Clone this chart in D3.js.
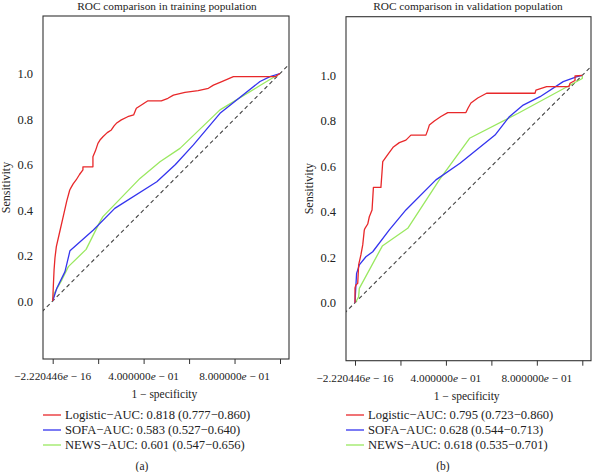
<!DOCTYPE html>
<html><head><meta charset="utf-8">
<script src="https://cdn.jsdelivr.net/npm/d3@7"></script>
<style>
body{margin:0;background:#fff;}
text{font-family:"Liberation Serif","DejaVu Serif",serif;fill:#222;}
</style></head>
<body><svg id="c" width="592" height="472"></svg>
<script>
// ---- data ----
const titles = ["ROC comparison in training population", "ROC comparison in validation population"];
const panelTags = ["(a)", "(b)"];
const seriesNames = ["Logistic", "SOFA", "NEWS"];
const seriesColors = ["#e8282a", "#3434ee", "#9ae860"];
const aucTrain = ["0.818 (0.777\u22120.860)", "0.583 (0.527\u22120.640)", "0.601 (0.547\u22120.656)"];
const aucValid = ["0.795 (0.723\u22120.860)", "0.628 (0.544\u22120.713)", "0.618 (0.535\u22120.701)"];
const yTicks = [0, 0.2, 0.4, 0.6, 0.8, 1.0];
const yTickLabels = ["0.0", "0.2", "0.4", "0.6", "0.8", "1.0"];
const xTicks = [0, 0.2, 0.4, 0.6, 0.8, 1.0];
const xTickLabels = ["\u22122.220446|e| \u2212 16", "", "4.000000|e| \u2212 01", "", "8.000000|e| \u2212 01", ""];
const xTitle = "1 \u2212 specificity";
const yTitle = "Sensitivity";

const trainLogistic = [[0,0],[0.003,0.07],[0.006,0.136],[0.01,0.19],[0.016,0.239],[0.03,0.30],[0.05,0.387],[0.062,0.44],[0.075,0.488],[0.08,0.497],[0.09,0.515],[0.103,0.532],[0.118,0.556],[0.133,0.576],[0.133,0.590],[0.177,0.590],[0.177,0.634],[0.188,0.66],[0.199,0.693],[0.21,0.71],[0.221,0.722],[0.24,0.74],[0.258,0.752],[0.27,0.77],[0.28,0.781],[0.302,0.796],[0.33,0.81],[0.356,0.818],[0.368,0.847],[0.38,0.855],[0.397,0.866],[0.419,0.880],[0.478,0.880],[0.507,0.891],[0.531,0.905],[0.582,0.917],[0.64,0.925],[0.685,0.935],[0.707,0.949],[0.744,0.964],[0.795,0.986],[0.978,0.986],[1,1]];
const trainSofa = [[0,0],[0.018,0.056],[0.054,0.129],[0.076,0.221],[0.179,0.312],[0.273,0.407],[0.458,0.524],[0.54,0.60],[0.619,0.686],[0.736,0.825],[0.912,0.965],[0.956,0.986],[1,1]];
const trainNews = [[0,0],[0.007,0.034],[0.040,0.092],[0.069,0.151],[0.147,0.227],[0.208,0.349],[0.221,0.371],[0.384,0.539],[0.472,0.612],[0.56,0.671],[0.736,0.84],[0.912,0.947],[1,1]];

const validLogistic = [[0,0],[0,0.065],[0.004,0.078],[0.012,0.085],[0.016,0.166],[0.026,0.21],[0.034,0.254],[0.041,0.32],[0.044,0.327],[0.056,0.346],[0.063,0.378],[0.075,0.408],[0.081,0.507],[0.114,0.507],[0.119,0.576],[0.122,0.62],[0.133,0.636],[0.148,0.657],[0.169,0.685],[0.195,0.704],[0.224,0.715],[0.246,0.737],[0.312,0.737],[0.32,0.759],[0.327,0.781],[0.349,0.799],[0.378,0.819],[0.408,0.836],[0.488,0.836],[0.497,0.855],[0.51,0.878],[0.54,0.9],[0.579,0.921],[0.792,0.921],[0.796,0.935],[0.843,0.95],[0.941,0.95],[0.946,0.965],[0.968,0.977],[0.968,0.997],[1,1]];
const validSofa = [[0,0],[0.001,0.021],[0.007,0.129],[0.019,0.166],[0.048,0.202],[0.078,0.224],[0.151,0.32],[0.224,0.408],[0.356,0.54],[0.462,0.613],[0.616,0.737],[0.679,0.818],[0.74,0.869],[0.814,0.906],[0.916,0.972],[0.977,0.994],[1,1]];
const validNews = [[0,0],[0.004,0.004],[0.016,0.026],[0.019,0.063],[0.12,0.249],[0.232,0.327],[0.371,0.54],[0.504,0.723],[0.718,0.833],[1,0.986],[1,1]];

// ---- layout ----
const panels = [
  {series:[trainLogistic, trainSofa, trainNews], auc:aucTrain,
   xr:[52.7,280], yr:[301,73.5], box:[43,16,289,359], titleX:167, ylabX:10, legX:43, tagX:142},
  {series:[validLogistic, validSofa, validNews], auc:aucValid,
   xr:[355,582.3], yr:[302.7,75.3], box:[346,16.7,591,360.7], titleX:468, ylabX:313, legX:346, tagX:443}
];

const svg = d3.select("#c");
panels.forEach((p, i) => {
  const x = d3.scaleLinear().domain([0,1]).range(p.xr);
  const y = d3.scaleLinear().domain([0,1]).range(p.yr);
  const [bx0, by0, bx1, by1] = p.box;
  const g = svg.append("g");

  // title
  g.append("text").attr("x", p.titleX).attr("y", 10).attr("text-anchor","middle")
    .attr("font-size", 11.3).text(titles[i]);

  // clip
  const cid = "clip"+i;
  svg.append("clipPath").attr("id", cid).append("rect")
    .attr("x", bx0).attr("y", by0).attr("width", bx1-bx0).attr("height", by1-by0);

  // diagonal
  g.append("line").attr("clip-path", `url(#${cid})`)
    .attr("x1", x(-0.2)).attr("y1", y(-0.2)).attr("x2", x(1.2)).attr("y2", y(1.2))
    .attr("stroke", "#444").attr("stroke-width", 1.1).attr("stroke-dasharray", "4,3");

  // curves (draw NEWS, SOFA, then Logistic on top)
  const line = d3.line().x(d => x(d[0])).y(d => y(d[1]));
  [2,1,0].forEach(k => {
    g.append("path").datum(p.series[k]).attr("d", line).attr("fill","none")
      .attr("stroke", seriesColors[k]).attr("stroke-width", 1.3).attr("stroke-linejoin","round");
  });

  // box
  g.append("rect").attr("x", bx0).attr("y", by0).attr("width", bx1-bx0).attr("height", by1-by0)
    .attr("fill","none").attr("stroke","#333").attr("stroke-width",1.1);

  // y axis labels
  yTicks.forEach((t, j) => {
    g.append("text").attr("x", bx0 - 10).attr("y", y(t) + 4.5).attr("text-anchor","end")
      .attr("font-size", 12.5).text(yTickLabels[j]);
  });
  g.append("text").attr("transform", `translate(${p.ylabX},${(by0+by1)/2}) rotate(-90)`)
    .attr("text-anchor","middle").attr("font-size", 12).text(yTitle);

  // x axis
  const xa = d3.axisBottom(x).tickValues(xTicks).tickSize(5).tickFormat("");
  const ax = g.append("g").attr("transform", `translate(0,${by1})`).call(xa);
  ax.select(".domain").remove();
  ax.selectAll("line").attr("stroke","#333");
  xTicks.forEach((t, j) => {
    if (!xTickLabels[j]) return;
    const parts = xTickLabels[j].split("|");
    const tx = g.append("text").attr("x", x(t)).attr("y", by1 + 21).attr("text-anchor","middle").attr("font-size", 11.3);
    tx.append("tspan").text(parts[0]);
    tx.append("tspan").attr("font-style","italic").text(parts[1]);
    tx.append("tspan").text(parts[2]);
  });
  g.append("text").attr("x", (x(0)+x(1))/2 - 2).attr("y", by1 + 39).attr("text-anchor","middle")
    .attr("font-size", 11.5).text(xTitle);

  // legend
  seriesNames.forEach((n, k) => {
    const ly = 415 + k*15;
    g.append("line").attr("x1", p.legX).attr("x2", p.legX + 18).attr("y1", ly).attr("y2", ly)
      .attr("stroke", seriesColors[k]).attr("stroke-width", 1.3);
    g.append("text").attr("x", p.legX + 22).attr("y", ly + 4).attr("font-size", 12.6)
      .text(`${n}\u2212AUC: ${p.auc[k]}`);
  });

  g.append("text").attr("x", p.tagX).attr("y", 470).attr("text-anchor","middle")
    .attr("font-size", 11.5).text(panelTags[i]);
});
</script></body></html>
